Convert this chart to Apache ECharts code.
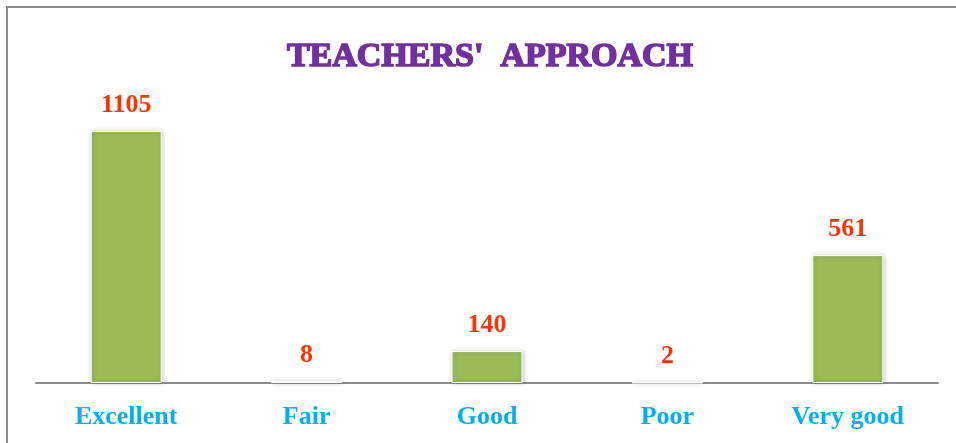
<!DOCTYPE html>
<html>
<head>
<meta charset="utf-8">
<script src="https://cdn.jsdelivr.net/npm/echarts@6/dist/echarts.min.js"></script>
<style>
  html, body { margin: 0; padding: 0; background: #fff; }
  #chart { width: 956px; height: 443px; }
</style>
</head>
<body>
<div id="chart"></div>
<script>
// data
const categories = ["Excellent", "Fair", "Good", "Poor", "Very good"];
const counts = [1105, 8, 140, 2, 561];

const chart = echarts.init(document.getElementById("chart"));

const option = {
  backgroundColor: "#fff",
  animation: false,
  title: {
    text: "TEACHERS'  APPROACH",
    left: 485,
    textAlign: "center",
    top: 35,
    textStyle: {
      fontFamily: "Liberation Serif",
      fontWeight: "bold",
      fontSize: 34,
      color: "#7030A0",
      textBorderColor: "#7030A0",
      textBorderWidth: 1.6,
    },
  },
  // frame of the chart area (left and top edges only)
  graphic: [
    {
      type: "polyline",
      shape: { points: [[7, 443], [7, 7], [956, 7]] },
      style: { stroke: "#8c8c8c", lineWidth: 2, fill: null },
      silent: true,
    },
  ],
  grid: {
    left: 36,
    right: 18,
    top: 90,
    bottom: 60,
  },
  xAxis: {
    type: "category",
    data: categories,
    axisLine: { lineStyle: { color: "#8c8c8c", width: 2 } },
    axisTick: { show: false },
    axisLabel: {
      margin: 21,
      fontFamily: "Liberation Serif",
      fontWeight: "bold",
      fontSize: 26,
      color: "#00B0F0",
    },
  },
  yAxis: {
    type: "value",
    min: 0,
    max: 1285,
    show: false,
    splitLine: { show: false },
  },
  series: [
    {
      type: "bar",
      data: counts,
      barWidth: 71,
      itemStyle: {
        color: "#9BBB59",
        borderColor: "#fff",
        borderWidth: 1,
        shadowBlur: 5,
        shadowColor: "rgba(0,0,0,0.25)",
        shadowOffsetX: 1,
      },
      label: {
        show: true,
        position: "top",
        distance: 13,
        fontFamily: "Liberation Serif",
        fontWeight: "bold",
        fontSize: 26,
        color: "#FF3300",
      },
    },
  ],
};

chart.setOption(option);
</script>
</body>
</html>
